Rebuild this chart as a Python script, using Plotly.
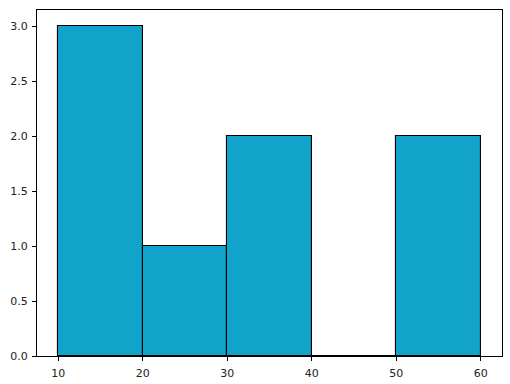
import plotly.graph_objects as go

bin_edges = [10, 20, 30, 40, 50, 60]
counts = [3, 1, 2, 0, 2]
x_ticks = [10, 20, 30, 40, 50, 60]
y_ticks = [0.0, 0.5, 1.0, 1.5, 2.0, 2.5, 3.0]

centers = [(a + b) / 2 for a, b in zip(bin_edges[:-1], bin_edges[1:])]
widths = [b - a for a, b in zip(bin_edges[:-1], bin_edges[1:])]

fig = go.Figure(go.Bar(
    x=centers, y=counts, width=widths,
    marker=dict(color="#11a3c9", line=dict(color="#000000", width=1.1)),
))

axis_common = dict(
    showline=True, linecolor="black", linewidth=1, mirror=True,
    ticks="outside", ticklen=4, tickwidth=1, tickcolor="black",
    showgrid=False, zeroline=False, automargin=False,
    tickfont=dict(family="DejaVu Sans", size=11, color="#222222"),
)

fig.update_layout(
    width=510, height=384,
    margin=dict(l=37, r=8, t=10, b=28),
    paper_bgcolor="white", plot_bgcolor="white",
    showlegend=False, bargap=0,
    xaxis=dict(range=[7.5, 62.5], tickvals=x_ticks, ticklabelstandoff=3,
               ticktext=[str(v) for v in x_ticks], **axis_common),
    yaxis=dict(range=[0, 3.15], tickvals=y_ticks, ticklabelstandoff=2,
               ticktext=[f"{v:.1f}" for v in y_ticks], **axis_common),
)

fig.write_html("out.html")
